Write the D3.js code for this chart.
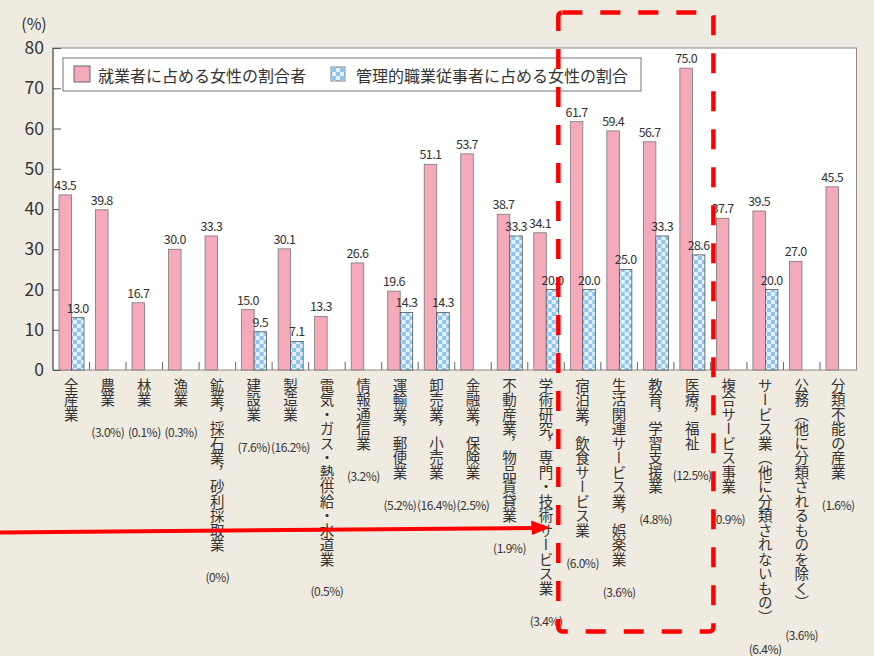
<!DOCTYPE html>
<html>
<head>
<meta charset="utf-8">
<script src="https://cdn.jsdelivr.net/npm/d3@7"></script>
<style>
body { margin: 0; background: #f0ebe1; }
svg { display: block; font-family: "Noto Sans CJK JP", "Noto Sans", sans-serif; }
</style>
</head>
<body>
<svg width="874" height="656"></svg>
<script>
let categories = [
    "全産業", "農業", "林業", "漁業", "鉱業，採石業，砂利採取業", "建設業", "製造業",
    "電気・ガス・熱供給・水道業", "情報通信業", "運輸業，郵便業", "卸売業，小売業",
    "金融業，保険業", "不動産業，物品賃貸業", "学術研究，専門・技術サービス業",
    "宿泊業，飲食サービス業", "生活関連サービス業，娯楽業", "教育，学習支援業", "医療，福祉",
    "複合サービス事業", "サービス業（他に分類されないもの）", "公務（他に分類されるものを除く）",
    "分類不能の産業"
];
let shares = [
    "", "(3.0%)", "(0.1%)", "(0.3%)", "(0%)", "(7.6%)", "(16.2%)", "(0.5%)", "(3.2%)",
    "(5.2%)", "(16.4%)", "(2.5%)", "(1.9%)", "(3.4%)", "(6.0%)", "(3.6%)", "(4.8%)",
    "(12.5%)", "(0.9%)", "(6.4%)", "(3.6%)", "(1.6%)"
];
let womenWorkers = [43.5, 39.8, 16.7, 30.0, 33.3, 15.0, 30.1, 13.3, 26.6, 19.6, 51.1,
    53.7, 38.7, 34.1, 61.7, 59.4, 56.7, 75.0, 37.7, 39.5, 27.0, 45.5];
let womenManagers = [13.0, null, null, null, null, 9.5, 7.1, null, null, 14.3, 14.3,
    null, 33.3, 20.0, 20.0, 25.0, 33.3, 28.6, null, 20.0, null, null];
let yTicks = [0, 10, 20, 30, 40, 50, 60, 70, 80];
let legendLabels = ["就業者に占める女性の割合者", "管理的職業従事者に占める女性の割合"];

let svg = d3.select("svg");
let plotLeft = 53, plotRight = 856.5, plotTop = 48, plotBottom = 370;

// checker pattern for the managers series
let defs = svg.append("defs");
let pat = defs.append("pattern")
    .attr("id", "checker")
    .attr("patternUnits", "userSpaceOnUse")
    .attr("width", 8).attr("height", 8);
pat.append("rect").attr("width", 8).attr("height", 8).attr("fill", "#e4f1fb");
pat.append("rect").attr("width", 4).attr("height", 4).attr("fill", "#8cc5ee");
pat.append("rect").attr("x", 4).attr("y", 4).attr("width", 4).attr("height", 4).attr("fill", "#8cc5ee");

let x0 = d3.scaleBand().domain(d3.range(categories.length)).range([plotLeft, plotRight]);
let x1 = d3.scaleBand().domain([0, 1]).range([6, 31]);
let y = d3.scaleLinear().domain([0, 80]).range([plotBottom, plotTop]);

// plot area
svg.append("rect")
    .attr("x", plotLeft).attr("y", plotTop)
    .attr("width", plotRight - plotLeft).attr("height", plotBottom - plotTop)
    .attr("fill", "#fff").attr("stroke", "#8a8a8a").attr("stroke-width", 1);

// y axis
let yAxis = svg.append("g")
    .attr("transform", `translate(${plotLeft},0)`)
    .call(d3.axisLeft(y).tickValues(yTicks).tickSize(-8).tickPadding(9));
yAxis.select(".domain").remove();
yAxis.selectAll(".tick line").attr("stroke", "#555");
yAxis.selectAll(".tick text")
    .attr("fill", "#333")
    .style("font-size", "17.5px")
    .style("font-family", "\"Noto Sans CJK JP\", sans-serif");
svg.append("line")
    .attr("x1", plotLeft).attr("x2", plotLeft).attr("y1", plotTop).attr("y2", plotBottom)
    .attr("stroke", "#555");

svg.append("text")
    .attr("x", 34).attr("y", 23)
    .attr("text-anchor", "middle").attr("dominant-baseline", "central")
    .attr("fill", "#333").style("font-size", "16px")
    .text("(%)");

// small ticks between categories
svg.append("g").selectAll("line")
    .data(d3.range(1, categories.length))
    .join("line")
    .attr("x1", d => x0(d)).attr("x2", d => x0(d))
    .attr("y1", plotBottom - 8).attr("y2", plotBottom)
    .attr("stroke", "#666");

// bars
let groups = svg.append("g").selectAll("g")
    .data(categories.map((c, i) => i))
    .join("g")
    .attr("transform", i => `translate(${x0(i)},0)`);

groups.append("rect")
    .attr("x", x1(0)).attr("width", x1.bandwidth())
    .attr("y", i => y(womenWorkers[i]))
    .attr("height", i => y(0) - y(womenWorkers[i]))
    .attr("fill", "#f5aabb").attr("stroke", "#777").attr("stroke-width", 0.8);

groups.filter(i => womenManagers[i] != null).append("rect")
    .attr("x", x1(1)).attr("width", x1.bandwidth())
    .attr("y", i => y(womenManagers[i]))
    .attr("height", i => y(0) - y(womenManagers[i]))
    .attr("fill", "url(#checker)").attr("stroke", "#555").attr("stroke-width", 0.8);

let fmt = d3.format(".1f");
groups.append("text")
    .attr("x", x1(0) + x1.bandwidth() / 2)
    .attr("y", i => y(womenWorkers[i]) - 5)
    .attr("text-anchor", "middle")
    .attr("fill", "#333").style("font-size", "12.5px").attr("letter-spacing", "-0.6")
    .text(i => fmt(womenWorkers[i]));

groups.filter(i => womenManagers[i] != null).append("text")
    .attr("x", x1(1) + x1.bandwidth() / 2)
    .attr("y", i => y(womenManagers[i]) - 5)
    .attr("text-anchor", "middle")
    .attr("fill", "#333").style("font-size", "12.5px").attr("letter-spacing", "-0.6")
    .text(i => fmt(womenManagers[i]));

// category labels (vertical) and shares below them
let labelTop = 378;
groups.each(function(i) {
    let g = d3.select(this);
    let cx = x0.bandwidth() / 2;
    let t = g.append("text")
        .attr("x", cx).attr("y", labelTop)
        .style("writing-mode", "vertical-rl")
        .style("font-size", "14.5px")
        .attr("fill", "#333")
        .text(categories[i]);
    let len = t.node().getBBox().height || categories[i].length * 14.5;
    if (shares[i]) {
        g.append("text")
            .attr("x", cx).attr("y", labelTop + len + 24)
            .attr("text-anchor", "middle").attr("dominant-baseline", "central")
            .attr("fill", "#333").style("font-size", "12px").attr("letter-spacing", "-0.5")
            .text(shares[i]);
    }
});

// legend
let legend = svg.append("g");
legend.append("rect")
    .attr("x", 63).attr("y", 58).attr("width", 578).attr("height", 33)
    .attr("fill", "#fff").attr("stroke", "#777");
legend.append("rect")
    .attr("x", 74).attr("y", 66).attr("width", 16).attr("height", 16)
    .attr("fill", "#f5aabb").attr("stroke", "#666");
legend.append("text")
    .attr("x", 98).attr("y", 74.5).attr("dominant-baseline", "central")
    .attr("fill", "#333").style("font-size", "16px")
    .text(legendLabels[0]);
legend.append("rect")
    .attr("x", 331).attr("y", 67).attr("width", 14).attr("height", 14)
    .attr("fill", "url(#checker)").attr("stroke", "#888");
legend.append("text")
    .attr("x", 356).attr("y", 74.5).attr("dominant-baseline", "central")
    .attr("fill", "#333").style("font-size", "16px")
    .text(legendLabels[1]);

// red annotation: dashed box around the service industries and an arrow
let boxX = x0(14) - 6, boxX2 = x0(18) + 3;
svg.append("rect")
    .attr("x", boxX).attr("y", 12.5)
    .attr("width", boxX2 - boxX).attr("height", 619)
    .attr("rx", 4)
    .attr("fill", "none").attr("stroke", "#ff0000").attr("stroke-width", 4.5)
    .attr("stroke-dasharray", "20 18");

let tipX = x0(13) + x0.bandwidth() / 2 + 4;
svg.append("line")
    .attr("x1", 0).attr("y1", 532.5)
    .attr("x2", tipX - 16).attr("y2", 528)
    .attr("stroke", "#ff0000").attr("stroke-width", 4);
svg.append("path")
    .attr("d", `M${tipX},527.5 L${tipX - 19},520.5 L${tipX - 18},535 Z`)
    .attr("fill", "#ff0000");
</script>
</body>
</html>
